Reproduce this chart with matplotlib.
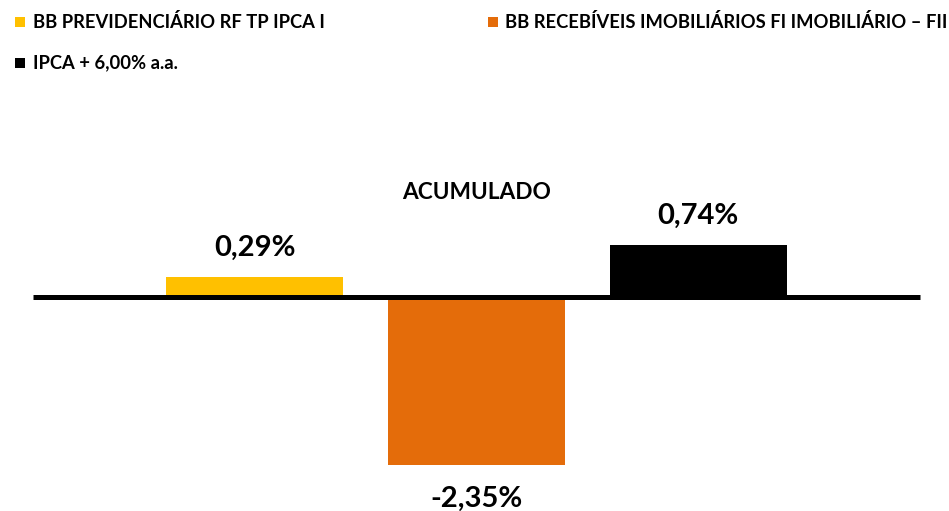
import matplotlib
matplotlib.use("Agg")
import matplotlib.pyplot as plt
from matplotlib.patches import Rectangle

# Data
series = [
    "BB PREVIDENCIÁRIO RF TP IPCA I",
    "BB RECEBÍVEIS IMOBILIÁRIOS FI IMOBILIÁRIO – FII",
    "IPCA + 6,00% a.a.",
]
values = [0.29, -2.35, 0.74]
labels = ["0,29%", "-2,35%", "0,74%"]
category = "ACUMULADO"
colors = ["#FFC000", "#E46C0A", "#000000"]

plt.rcParams["font.family"] = ["Lato", "DejaVu Sans"]
plt.rcParams["font.weight"] = "bold"

W, H = 949, 511
fig = plt.figure(figsize=(W / 100, H / 100), dpi=100)
ax = fig.add_axes([0, 0, 1, 1])
ax.set_axis_off()

# pixel mapping: x -2 -> 33px, x 2 -> 920px ; y 0 -> 297.5px from top, 71.2 px per unit
sx = 4 / 887
ax.set_xlim(-2 - 33 * sx, 2 + (W - 920) * sx)
py = 71.2
ax.set_ylim(-(H - 297.5) / py, 297.5 / py)

xs = [-1, 0, 1]
bars = ax.bar(xs, values, width=0.8, color=colors, zorder=2)
ax.plot([-2, 2], [0, 0], color="black", lw=3.6, zorder=3, solid_capstyle="butt")

for x, v, lab in zip(xs, values, labels):
    off = 21 if v > 0 else -24.5
    ax.annotate(lab, (x, v), xytext=(0, off), textcoords="offset points",
                ha="center", va="center", fontsize=21, fontweight="bold", color="black")

ax.text(0, 1.48, category, ha="center", va="center", fontsize=16.3,
        fontweight="bold", color="black")

# legend drawn by hand
leg_pos = [(15, 22, 33), (488, 22, 505), (15, 63, 33)]
for (sxp, yc, tx), name, c in zip(leg_pos, series, colors):
    fig.add_artist(Rectangle((sxp / W, (H - yc - 5) / H), 10 / W, 10 / H,
                             transform=fig.transFigure, color=c, lw=0))
    fig.text(tx / W, (H - yc) / H, name, ha="left", va="center",
             fontsize=13.2, fontweight="bold", color="black")

fig.savefig("out.png", dpi=100, facecolor="white")
